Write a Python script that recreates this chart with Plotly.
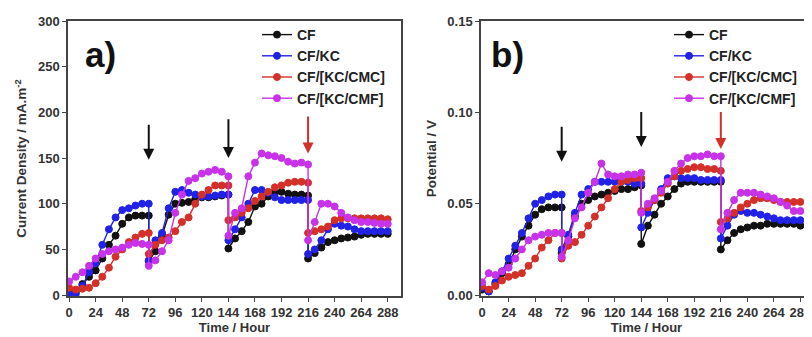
import plotly.graph_objects as go

# ---------------- data ----------------
hours_seg = [0, 6, 12, 18, 24, 30, 36, 42, 48, 54, 60, 66, 72]
time_h = (hours_seg
          + [72 + h for h in hours_seg]
          + [144 + h for h in hours_seg]
          + [216 + h for h in hours_seg])

series_names = ["CF", "CF/KC", "CF/[KC/CMC]", "CF/[KC/CMF]"]
series_colors = ["#111111", "#2222e6", "#d4302a", "#c832e8"]

# panel a: current density (mA.m-2)
cd_cf = [5, 3, 12, 20, 27, 40, 55, 65, 78, 85, 87, 87, 87,
         37, 48, 65, 88, 100, 101, 102, 105, 107, 107, 108, 109, 110,
         51, 62, 70, 80, 97, 100, 108, 112, 113, 111, 110, 110, 109,
         40, 46, 52, 58, 60, 62, 63, 64, 66, 67, 67, 67, 67]
cd_kc = [2, 1, 10, 25, 35, 55, 72, 85, 93, 95, 98, 100, 100,
         38, 60, 68, 95, 113, 115, 112, 110, 108, 108, 109, 110, 110,
         60, 72, 85, 100, 115, 115, 112, 107, 104, 104, 104, 104, 104,
         45, 50, 60, 72, 78, 76, 75, 72, 70, 70, 70, 70, 70]
cd_cmc = [8, 6, 7, 8, 13, 20, 30, 42, 50, 58, 63, 67, 68,
          45, 55, 60, 63, 70, 80, 85, 100, 110, 115, 120, 120, 120,
          82, 85, 90, 95, 103, 108, 113, 118, 120, 123, 124, 124, 123,
          68, 70, 72, 75, 82, 84, 84, 84, 84, 84, 84, 84, 83]
cd_cmf = [15, 20, 25, 32, 40, 45, 48, 50, 52, 55, 57, 56, 55,
          32, 38, 48, 60, 90, 110, 125, 128, 133, 135, 137, 135, 130,
          65, 90, 95, 130, 145, 155, 153, 152, 150, 146, 144, 145, 143,
          60, 80, 100, 100, 97, 90, 85, 82, 80, 80, 79, 78, 78]

# panel b: potential (V)
pot_cf = [0.003, 0.002, 0.006, 0.012, 0.017, 0.025, 0.032, 0.038, 0.044, 0.047, 0.048, 0.048, 0.048,
          0.023, 0.032, 0.043, 0.050, 0.052, 0.054, 0.055, 0.056, 0.057, 0.058, 0.058, 0.059, 0.060,
          0.028, 0.038, 0.044, 0.050, 0.054, 0.058, 0.061, 0.062, 0.062, 0.062, 0.062, 0.062, 0.062,
          0.025, 0.030, 0.034, 0.036, 0.037, 0.038, 0.038, 0.039, 0.039, 0.039, 0.039, 0.039, 0.038]
pot_kc = [0.004, 0.002, 0.007, 0.013, 0.020, 0.027, 0.034, 0.042, 0.050, 0.052, 0.054, 0.055, 0.055,
          0.025, 0.033, 0.045, 0.055, 0.058, 0.062, 0.062, 0.062, 0.062, 0.062, 0.062, 0.061, 0.061,
          0.037, 0.045, 0.052, 0.058, 0.064, 0.065, 0.064, 0.064, 0.064, 0.063, 0.063, 0.063, 0.063,
          0.031, 0.038, 0.044, 0.046, 0.045, 0.045, 0.044, 0.043, 0.042, 0.041, 0.041, 0.041, 0.041]
pot_cmc = [0.005, 0.003, 0.005, 0.008, 0.010, 0.011, 0.012, 0.016, 0.020, 0.026, 0.030, 0.034, 0.034,
           0.020, 0.027, 0.029, 0.033, 0.038, 0.043, 0.048, 0.053, 0.058, 0.062, 0.063, 0.064, 0.064,
           0.046, 0.048, 0.052, 0.056, 0.061, 0.065, 0.068, 0.069, 0.070, 0.070, 0.069, 0.069, 0.068,
           0.040, 0.042, 0.045, 0.048, 0.050, 0.052, 0.053, 0.053, 0.052, 0.051, 0.051, 0.051, 0.051]
pot_cmf = [0.007, 0.012, 0.011, 0.013, 0.015, 0.020, 0.025, 0.030, 0.032, 0.033, 0.034, 0.034, 0.034,
           0.021, 0.030, 0.042, 0.048, 0.056, 0.062, 0.072, 0.066, 0.065, 0.065, 0.066, 0.066, 0.067,
           0.045, 0.050, 0.053, 0.057, 0.062, 0.068, 0.072, 0.075, 0.076, 0.076, 0.077, 0.076, 0.076,
           0.036, 0.045, 0.052, 0.056, 0.056, 0.056, 0.055, 0.054, 0.053, 0.051, 0.049, 0.046, 0.046]

x_ticks = list(range(0, 289, 24))
ya_ticks = [0, 50, 100, 150, 200, 250, 300]
yb_ticks = [0.00, 0.05, 0.10, 0.15]

# arrows: (hour, tip value, tail value, color)
arrows_a = [(72, 148, 188, "#111111"), (144, 150, 194, "#111111"), (216, 155, 197, "#d4302a")]
arrows_b = [(72, 0.073, 0.093, "#111111"), (144, 0.081, 0.101, "#111111"), (216, 0.080, 0.101, "#d4302a")]

# ---------------- figure ----------------
FONT = "Liberation Sans, Arial, sans-serif"
fig = go.Figure()

for name, col, ya, yb in zip(series_names, series_colors,
                             [cd_cf, cd_kc, cd_cmc, cd_cmf],
                             [pot_cf, pot_kc, pot_cmc, pot_cmf]):
    mk = dict(symbol="circle", size=7, color=col, line=dict(color=col, width=1))
    fig.add_trace(go.Scatter(x=time_h, y=ya, name=name, mode="lines+markers",
                             line=dict(color=col, width=1.4), marker=mk,
                             xaxis="x", yaxis="y", legend="legend"))
    fig.add_trace(go.Scatter(x=time_h, y=yb, name=name, mode="lines+markers",
                             line=dict(color=col, width=1.4), marker=mk,
                             xaxis="x2", yaxis="y2", legend="legend2"))

axis_common = dict(showline=True, linecolor="#444", linewidth=1.5, mirror=True,
                   ticks="outside", ticklen=4, tickwidth=1.2, tickcolor="#444",
                   showgrid=False, zeroline=False, automargin=False,
                   tickfont=dict(family=FONT, size=13, color="#333", weight="bold"))

TITLE_FONT_X = dict(family=FONT, size=13, color="#333", weight="bold")
TITLE_FONT_Y = dict(family=FONT, size=13.5, color="#333", weight="bold")
LEG_FONT = dict(family=FONT, size=14, color="#222", weight="bold")

# the page body adds an 8 px offset, so the figure is 8 px smaller than the window
W = 804.0
H = 329.0
TOP = 13
PH = 275.0

fig.update_layout(
    width=int(W), height=int(H),
    margin=dict(l=0, r=0, t=TOP, b=int(H - TOP - PH), autoexpand=False),
    paper_bgcolor="white", plot_bgcolor="white",
    font=dict(family=FONT, color="#222"),
    xaxis=dict(domain=[60 / W, 393 / W], range=[-1, 300], tickvals=x_ticks,
               title=dict(text="Time / Hour", font=TITLE_FONT_X, standoff=0),
               anchor="y", **axis_common),
    yaxis=dict(domain=[0, 1], range=[-1, 300], tickvals=ya_ticks,
               title=dict(text="Current Density / mA.m<sup>-2</sup>", font=TITLE_FONT_Y, standoff=8),
               anchor="x", **axis_common),
    xaxis2=dict(domain=[473 / W, 1.0], range=[-1, 298.5], tickvals=x_ticks,
                title=dict(text="Time / Hour", font=TITLE_FONT_X, standoff=0),
                anchor="y2", **axis_common),
    yaxis2=dict(domain=[0, 1], range=[-0.0005, 0.15], tickvals=yb_ticks, tickformat=".2f",
                title=dict(text="Potential / V", font=TITLE_FONT_Y, standoff=8),
                anchor="x2", **axis_common),
    legend=dict(x=249 / W, y=1 + (TOP - 11) / PH, xanchor="left", yanchor="top",
                bgcolor="rgba(0,0,0,0)", font=LEG_FONT, itemwidth=30, tracegroupgap=0),
    legend2=dict(x=661 / W, y=1 + (TOP - 11) / PH, xanchor="left", yanchor="top",
                 bgcolor="rgba(0,0,0,0)", font=LEG_FONT, itemwidth=30, tracegroupgap=0),
    showlegend=True,
)

ann = []
for (h, tip, tail, col) in arrows_a:
    ann.append(dict(x=h, y=tip, ax=h, ay=tail, xref="x", yref="y", axref="x", ayref="y",
                    showarrow=True, arrowhead=2, arrowsize=1.1, arrowwidth=2, arrowcolor=col, text=""))
for (h, tip, tail, col) in arrows_b:
    ann.append(dict(x=h, y=tip, ax=h, ay=tail, xref="x2", yref="y2", axref="x2", ayref="y2",
                    showarrow=True, arrowhead=2, arrowsize=1.1, arrowwidth=2, arrowcolor=col, text=""))
# panel labels, positioned in figure pixels then converted to paper fractions
for lbl, px, py in [("a)", 75, 25), ("b)", 481, 25)]:
    ann.append(dict(x=px / W, y=1 - (py - TOP) / PH, xref="paper", yref="paper", text=lbl,
                    showarrow=False, xanchor="left", yanchor="top",
                    font=dict(family=FONT, size=35, color="#111", weight="bold")))
fig.update_layout(annotations=ann)

fig.write_html("out.html")
